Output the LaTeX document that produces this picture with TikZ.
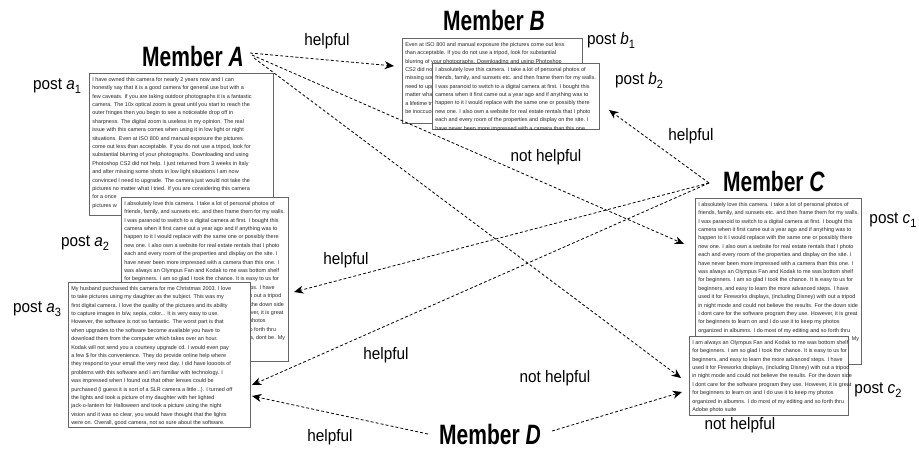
\documentclass[tikz,border=0pt]{standalone}
\usepackage{fontspec}
\setmainfont{Liberation Sans}
\newfontfamily\memfont[FakeStretch=0.75]{Liberation Sans}
\newfontfamily\lblfont[FakeStretch=0.92]{Liberation Sans}
\usetikzlibrary{arrows.meta}
\newcommand\postsub[1]{\raisebox{-0.45ex}{\fontsize{9}{9}\selectfont #1}}
\tikzset{
  rev/.style={draw=black!60, fill=white, line width=0.6pt, inner sep=0pt, anchor=north west},
  box/.style 2 args={minimum width=#1*0.75pt, minimum height=#2*0.75pt},
  revtext/.style={font=\fontsize{4.1}{6.3}\selectfont, text=black!85, align=left, inner sep=0pt, anchor=north west},
  member/.style={font=\memfont\fontsize{21}{21}\selectfont\bfseries, inner sep=0pt},
  lbl/.style={font=\lblfont\fontsize{12.5}{13}\selectfont, inner sep=0pt},
  vote/.style={line width=0.6pt, dash pattern=on 2.2pt off 1.6pt, -{Stealth[length=7pt,width=6pt,inset=2.2pt]}}
}
\begin{document}
\begin{tikzpicture}[x=0.75pt,y=-0.75pt]
\useasboundingbox (0,0) rectangle (919,449);

% post a1
\node[rev, box={184}{142}] (a1) at (89,73) {};
\node[revtext] (a1t) at ([shift={(3,4)}]a1.north west) {I have owned this camera for nearly 2 years now and I can\\
honestly say that it is a good camera for general use but with a\\
few caveats. If you are taking outdoor photographs it is a fantastic\\
camera. The 10x optical zoom is great until you start to reach the\\
outer fringes then you begin to see a noticeable drop off in\\
sharpness. The digital zoom is useless in my opinion. The real\\
issue with this camera comes when using it in low light or night\\
situations. Even at ISO 800 and manual exposure the pictures\\
come out less than acceptable. If you do not use a tripod, look for\\
substantial blurring of your photographs. Downloading and using\\
Photoshop CS2 did not help. I just returned from 3 weeks in Italy\\
and after missing some shots in low light situations I am now\\
convinced I need to upgrade. The camera just would not take the\\
pictures no matter what I tried. If you are considering this camera\\
for a once\\
pictures w};

% post a2
\node[rev, box={167}{164}] (a2) at (121,197) {};
\node[revtext] (a2t) at ([shift={(3,4)}]a2.north west) {I absolutely love this camera. I take a lot of personal photos of\\
friends, family, and sunsets etc. and then frame them for my walls.\\
I was paranoid to switch to a digital camera at first. I bought this\\
camera when it first came out a year ago and if anything was to\\
happen to it I would replace with the same one or possibly there\\
new one. I also own a website for real estate rentals that I photo\\
each and every room of the properties and display on the site. I\\
have never been more impressed with a camera than this one. I\\
was always an Olympus Fan and Kodak to me was bottom shelf\\
for beginners. I am so glad I took the chance. It is easy to us for\\
beginners, and easy to learn the more advanced steps. I have\\
used it for Fireworks displays, (including Disney) with out a tripod\\
in night mode and could not believe the results. For the down side\\
I dont care for the software program they use. However, it is great\\
for beginners to learn on and I do use it to keep my photos\\
organized in albumns. I do most of my editing and so forth thru\\
Adobe photo suite. If you are leary about this camera, dont be. My\\
sister in law liked mine so much she bought this\\
camera too and she takes beautiful photos\\
of her kids and everyday things, spur of};

% post a3
\node[rev, box={182}{145}] (a3) at (68,282) {};
\node[revtext] (a3t) at ([shift={(3,4)}]a3.north west) {My husband purchased this camera for me Christmas 2003. I love\\
to take pictures using my daughter as the subject. This was my\\
first digital camera. I love the quality of the pictures and its ability\\
to capture images in b/w, sepia, color... It is very easy to use.\\
However, the software is not so fantastic. The worst part is that\\
when upgrades to the software become available you have to\\
download them from the computer which takes over an hour.\\
Kodak will not send you a courtesy upgrade cd. I would even pay\\
a few \$ for this convenience. They do provide online help where\\
they respond to your email the very next day. I did have loooots of\\
problems with this software and I am familiar with technology. I\\
was impressed when I found out that other lenses could be\\
purchased (I guess it is sort of a SLR camera a little...). I turned off\\
the lights and took a picture of my daughter with her lighted\\
jack-o-lantern for Halloween and took a picture using the night\\
vision and it was so clear, you would have thought that the lights\\
were on. Overall, good camera, not so sure about the software.};

% post b1
\node[rev, box={180}{85}] (b1) at (402,38) {};
\node[revtext] (b1t) at ([shift={(3,4)}]b1.north west) {Even at ISO 800 and manual exposure the pictures come out less\\
than acceptable. If you do not use a tripod, look for substantial\\
blurring of your photographs. Downloading and using Photoshop\\
CS2 did not help. I just returned from 3 weeks in Italy and after\\
missing some shots in low light situations I am now convinced I\\
need to upgrade. The camera just would not take the pictures no\\
matter what I tried. If you are considering this camera for a once\\
a lifetime trip, do not take it with you, the pictures will\\
be inoccuous at best.};

% post b2
\node[rev, box={167}{66}] (b2) at (432,63) {};
\node[revtext] (b2t) at ([shift={(3,4)}]b2.north west) {I absolutely love this camera. I take a lot of personal photos of\\
friends, family, and sunsets etc. and then frame them for my walls.\\
I was paranoid to switch to a digital camera at first. I bought this\\
camera when it first came out a year ago and if anything was to\\
happen to it I would replace with the same one or possibly there\\
new one. I also own a website for real estate rentals that I photo\\
each and every room of the properties and display on the site. I\\
have never been more impressed with a camera than this one.};

% post c1
\node[rev, box={166}{166}] (c1) at (695,198) {};
\node[revtext] (c1t) at ([shift={(3,4)}]c1.north west) {I absolutely love this camera. I take a lot of personal photos of\\
friends, family, and sunsets etc. and then frame them for my walls.\\
I was paranoid to switch to a digital camera at first. I bought this\\
camera when it first came out a year ago and if anything was to\\
happen to it I would replace with the same one or possibly there\\
new one. I also own a website for real estate rentals that I photo\\
each and every room of the properties and display on the site. I\\
have never been more impressed with a camera than this one. I\\
was always an Olympus Fan and Kodak to me was bottom shelf\\
for beginners. I am so glad I took the chance. It is easy to us for\\
beginners, and easy to learn the more advanced steps. I have\\
used it for Fireworks displays, (including Disney) with out a tripod\\
in night mode and could not believe the results. For the down side\\
I dont care for the software program they use. However, it is great\\
for beginners to learn on and I do use it to keep my photos\\
organized in albumns. I do most of my editing and so forth thru\\
Adobe photo suite. If you are leary about this camera, dont be. My\\
sister in law liked mine so much she bought this\\
camera too and she takes beautiful photos\\
of her kids and everyday things, spur of};

% post c2
\node[rev, box={159}{79}] (c2) at (689,336) {};
\node[revtext] (c2t) at ([shift={(3,4)}]c2.north west) {I am always an Olympus Fan and Kodak to me was bottom shelf\\
for beginners. I am so glad I took the chance. It is easy to us for\\
beginners, and easy to learn the more advanced steps. I have\\
used it for Fireworks displays, (including Disney) with out a tripod\\
in night mode and could not believe the results. For the down side\\
I dont care for the software program they use. However, it is great\\
for beginners to learn on and I do use it to keep my photos\\
organized in albumns. I do most of my editing and so forth thru\\
Adobe photo suite};

% members
\node[member] (A) at (193,56) {Member \textit{A}};
\node[member] (B) at (494,20) {Member \textit{B}};
\node[member] (C) at (774,181) {Member \textit{C}};
\node[member] (D) at (490,434) {Member \textit{D}};

% post labels
\node[lbl] (pa1) at (57,86) {post \textit{a}\postsub{1}};
\node[lbl] (pa2) at (85,243) {post \textit{a}\postsub{2}};
\node[lbl] (pa3) at (37,309) {post \textit{a}\postsub{3}};
\node[lbl] (pb1) at (611,40) {post \textit{b}\postsub{1}};
\node[lbl] (pb2) at (639,80) {post \textit{b}\postsub{2}};
\node[lbl] (pc1) at (893,220) {post \textit{c}\postsub{1}};
\node[lbl] (pc2) at (878,390) {post \textit{c}\postsub{2}};

% connector end points
\coordinate (Ab1) at (250,53);
\coordinate (Ac1) at (252,55);
\coordinate (Ac2) at (254,58);
\coordinate (Cout) at (709,183);
\coordinate (Dl) at (428,434);
\coordinate (Dr) at (552,431);
\coordinate (b1in) at (394,66);
\coordinate (b2in) at (609,110);
\coordinate (c1in) at (684,244);
\coordinate (c2in) at (681,378);
\coordinate (c2inb) at (682,392);
\coordinate (a2in) at (294,292);
\coordinate (a3in) at (252,385);
\coordinate (a3inb) at (252,396);

\draw[vote] (Ab1) -- (b1in);
\draw[vote] (Ac1) -- (c1in);
\draw[vote] (Ac2) -- (c2in);
\draw[vote] (Cout) -- (b2in);
\draw[vote] (Cout) -- (a2in);
\draw[vote] (Cout) -- (a3in);
\draw[vote] (Dl) -- (a3inb);
\draw[vote] (Dr) -- (c2inb);

% vote labels
\node[lbl] (l1) at (327,41) {helpful};
\node[lbl] (l2) at (546,157) {not helpful};
\node[lbl] (l3) at (691,136) {helpful};
\node[lbl] (l4) at (346,260) {helpful};
\node[lbl] (l5) at (386,355) {helpful};
\node[lbl] (l6) at (555,378) {not helpful};
\node[lbl] (l7) at (330,437) {helpful};
\node[lbl] (l8) at (740,425) {not helpful};
\end{tikzpicture}
\end{document}
